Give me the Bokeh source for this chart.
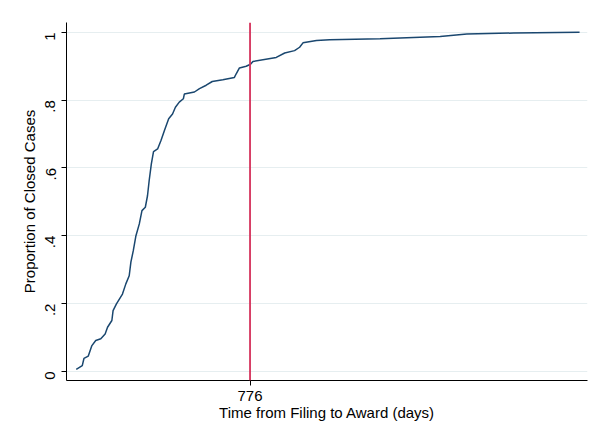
import math
from bokeh.plotting import figure
from bokeh.models import FixedTicker, Span
from bokeh.embed import file_html
from bokeh.resources import INLINE

# Time from filing to award (days) and cumulative proportion of closed cases
days = [54, 79, 86, 104, 119, 135, 156, 174, 184, 202, 207, 221, 246, 260, 274,
        281, 291, 302, 316, 327, 341, 350, 357, 366, 375, 392, 406, 420, 438, 454,
        466, 482, 499, 503, 545, 566, 594, 619, 663, 711, 718, 732, 760, 778, 788,
        885, 920, 961, 982, 996, 1052, 1107, 1316, 1566, 1677, 1871, 2145]
proportion = [0.006, 0.017, 0.038, 0.045, 0.076, 0.091, 0.096, 0.110, 0.130, 0.150,
              0.179, 0.199, 0.228, 0.258, 0.282, 0.322, 0.356, 0.400, 0.435, 0.474,
              0.484, 0.518, 0.563, 0.612, 0.648, 0.656, 0.681, 0.710, 0.745, 0.759,
              0.779, 0.794, 0.804, 0.818, 0.824, 0.834, 0.844, 0.855, 0.860, 0.867,
              0.877, 0.895, 0.900, 0.906, 0.914, 0.926, 0.939, 0.946, 0.956, 0.969,
              0.976, 0.978, 0.981, 0.988, 0.995, 0.998, 1.0]
median_day = 776
y_ticks = [0, 0.2, 0.4, 0.6, 0.8, 1.0]
y_tick_labels = ["0", ".2", ".4", ".6", ".8", "1"]
x_ticks = [776]
x_tick_labels = ["776"]

FONT = "Liberation Sans"

p = figure(width=589, height=433, output_backend="svg", toolbar_location=None,
           x_range=(13.5, 2178), y_range=(-0.027, 1.029),
           min_border_left=66, min_border_top=22, min_border_right=2,
           min_border_bottom=53, background_fill_color="white",
           border_fill_color="white")
p.outline_line_color = None

p.line(days, proportion, line_color="#1a476f", line_width=1.5)
p.add_layout(Span(location=median_day, dimension="height",
                  line_color="#d5315a", line_width=1.8))

# y axis
p.yaxis.ticker = FixedTicker(ticks=y_ticks)
p.yaxis.major_label_overrides = {t: l for t, l in zip(y_ticks, y_tick_labels)}
p.yaxis.major_label_orientation = math.pi / 2
p.yaxis.axis_label = "Proportion of Closed Cases"
p.yaxis.minor_tick_line_color = None
p.yaxis.major_tick_out = 5
p.yaxis.major_tick_in = 0
p.yaxis.major_label_standoff = 11

# x axis
p.xaxis.ticker = FixedTicker(ticks=x_ticks)
p.xaxis.major_label_overrides = {t: l for t, l in zip(x_ticks, x_tick_labels)}
p.xaxis.axis_label = "Time from Filing to Award (days)"
p.xaxis.minor_tick_line_color = None
p.xaxis.major_tick_out = 5
p.xaxis.major_tick_in = 0
p.xaxis.major_label_standoff = 5
p.xaxis.axis_label_standoff = 0

for ax in (p.xaxis, p.yaxis):
    ax.axis_line_color = "black"
    ax.major_tick_line_color = "black"
    ax.major_label_text_font = FONT
    ax.major_label_text_font_size = "15px"
    ax.major_label_text_color = "black"
    ax.axis_label_text_font = FONT
    ax.axis_label_text_font_size = "15px"
    ax.axis_label_text_font_style = "normal"
    ax.axis_label_text_color = "black"
p.yaxis.axis_label_standoff = 0

p.xgrid.grid_line_color = None
p.ygrid.ticker = FixedTicker(ticks=y_ticks)
p.ygrid.grid_line_color = "#e6eef0"
p.ygrid.grid_line_width = 1

open("out.html", "w").write(file_html(p, INLINE))
